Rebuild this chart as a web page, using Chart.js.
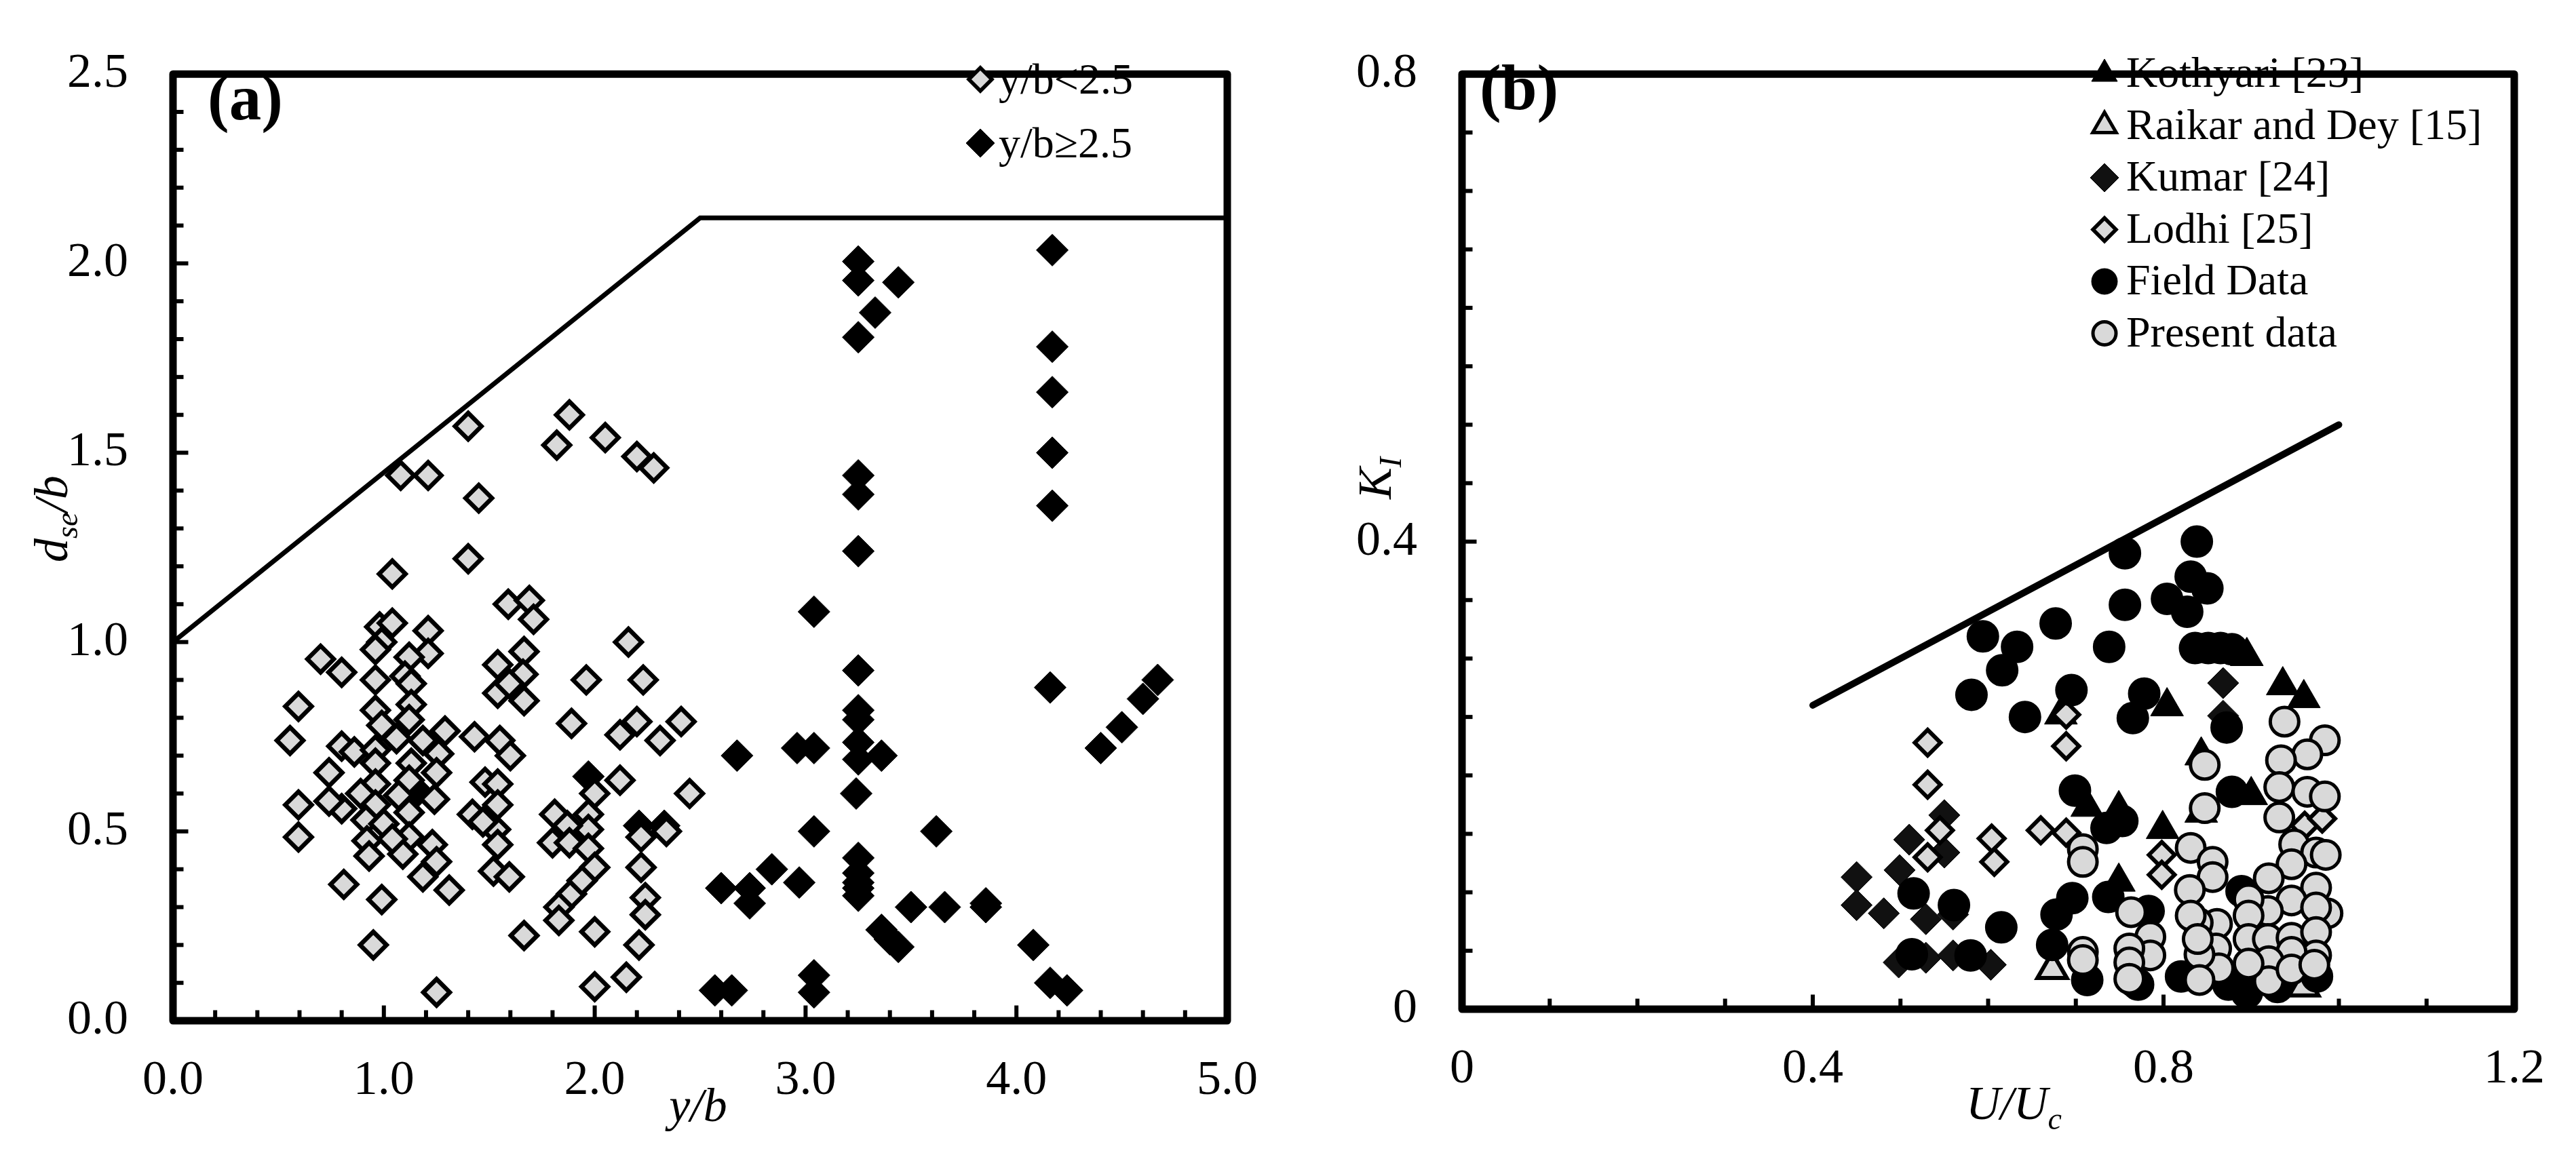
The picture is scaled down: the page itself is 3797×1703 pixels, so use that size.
<!DOCTYPE html>
<html>
<head>
<meta charset="utf-8">
<script src="https://cdn.jsdelivr.net/npm/chart.js@4.4.1/dist/chart.umd.min.js"></script>
<style>
html,body{margin:0;padding:0;background:#fff;width:3797px;height:1703px;overflow:hidden}
canvas{position:absolute;top:0}
#ca{left:0}
#cb{left:1900px}
</style>
</head>
<body>
<canvas id="ca" width="1900" height="1703"></canvas>
<canvas id="cb" width="1897" height="1703"></canvas>
<script>
// ---------------- Panel (a) data ----------------
const lowX = [1.08,1.21,1.40,1.45,1.88,1.82,2.05,2.20,2.28,1.40,
  1.04,1.59,1.69,1.71,0.98,1.04,1.21,0.99,0.96,1.21,
  1.12,0.80,0.70,1.665,1.54,1.66,2.16,1.96,2.23,0.96,
  1.10,1.13,1.54,1.665,1.595,1.13,0.96,1.89,2.20,2.12,
  2.31,2.41,0.99,1.12,1.06,1.185,1.29,1.43,1.55,1.60,
  1.26,0.80,0.86,0.96,0.74,0.96,1.13,1.25,2.12,2.45,
  2.00,1.48,1.54,0.96,1.12,0.80,0.74,0.89,0.96,1.07,
  1.12,1.24,1.42,1.54,1.53,1.47,1.81,1.97,1.97,1.87,
  2.22,2.34,0.915,1.00,1.12,0.92,1.23,1.09,0.93,1.04,
  1.54,1.80,1.88,1.97,2.00,2.22,1.52,1.595,1.25,1.185,
  1.31,0.81,0.99,1.89,1.94,1.83,2.24,2.24,1.83,1.665,
  2.00,2.21,0.95,2.15,2.00,1.25,0.595,0.555,0.595,0.595];
const lowY = [1.44,1.44,1.57,1.38,1.60,1.52,1.54,1.49,1.46,1.22,
  1.18,1.10,1.11,1.06,1.04,1.05,1.03,1.00,0.98,0.97,
  0.96,0.92,0.955,0.975,0.94,0.915,1.00,0.90,0.90,0.90,
  0.91,0.89,0.865,0.845,0.89,0.835,0.82,0.785,0.79,0.755,
  0.74,0.79,0.78,0.795,0.745,0.74,0.765,0.75,0.74,0.70,
  0.705,0.725,0.71,0.715,0.655,0.68,0.68,0.655,0.635,0.60,
  0.60,0.63,0.625,0.625,0.635,0.56,0.58,0.60,0.57,0.595,
  0.55,0.585,0.545,0.57,0.505,0.525,0.545,0.545,0.505,0.515,
  0.485,0.50,0.53,0.52,0.485,0.475,0.465,0.44,0.435,0.48,
  0.465,0.47,0.47,0.455,0.405,0.405,0.395,0.38,0.42,0.38,
  0.345,0.36,0.32,0.335,0.37,0.30,0.325,0.28,0.265,0.225,
  0.235,0.20,0.20,0.115,0.09,0.075,0.83,0.74,0.57,0.485];
const highX = [3.25,3.25,3.44,3.33,3.25,4.17,4.17,4.17,4.17,4.17,
  3.25,3.25,3.25,3.04,3.25,4.16,4.67,4.60,4.50,4.40,
  3.25,3.25,3.25,3.25,3.36,2.675,2.96,3.04,3.24,3.04,
  3.62,3.25,3.25,3.25,3.25,3.25,2.84,2.97,2.60,2.735,
  2.735,3.50,3.66,3.855,3.855,3.36,3.40,3.44,4.08,4.16,
  4.24,3.04,3.04,2.65,2.57,1.97,1.16,2.21,2.33];
const highY = [2.005,1.955,1.95,1.87,1.805,2.035,1.78,1.66,1.50,1.36,
  1.44,1.39,1.24,1.08,0.925,0.88,0.90,0.85,0.775,0.72,
  0.82,0.795,0.735,0.69,0.70,0.70,0.72,0.72,0.60,0.50,
  0.50,0.43,0.39,0.365,0.35,0.33,0.40,0.365,0.35,0.35,
  0.31,0.30,0.30,0.31,0.30,0.24,0.215,0.195,0.20,0.10,
  0.08,0.12,0.075,0.08,0.08,0.645,0.605,0.515,0.515];
const envAX = [0, 2.5, 5.0];
const envAY = [1.0, 2.12, 2.12];
const ticksAX = [0, 1, 2, 3, 4, 5];
const ticksAY = [0, 0.5, 1.0, 1.5, 2.0, 2.5];

// ---------------- Panel (b) data ----------------
const kothX = [0.895,0.936,0.960,0.804,0.683,0.843,0.713,0.749,0.799,0.900,0.749,0.843];
const kothY = [0.302,0.277,0.266,0.259,0.252,0.217,0.173,0.171,0.154,0.183,0.109,0.168];
const raikX = [0.673,0.960];
const raikY = [0.034,0.019];
const kumX = [0.550,0.510,0.550,0.499,0.450,0.450,0.481,0.529,0.560,0.498,0.529,0.560,0.603,0.868,0.868];
const kumY = [0.166,0.145,0.134,0.119,0.113,0.089,0.082,0.077,0.081,0.040,0.044,0.046,0.038,0.279,0.251];
const lodX = [0.531,0.531,0.545,0.531,0.604,0.607,0.660,0.689,0.689,0.689,0.798,0.798,0.961,0.981];
const lodY = [0.228,0.192,0.153,0.130,0.146,0.126,0.153,0.151,0.252,0.225,0.132,0.115,0.157,0.163];
const fieldX = [0.838,0.756,0.831,0.850,0.756,0.804,0.827,0.677,0.633,0.594,
  0.738,0.616,0.581,0.836,0.851,0.865,0.878,0.695,0.642,0.778,
  0.765,0.872,0.699,0.735,0.753,0.878,0.515,0.561,0.615,0.513,
  0.580,0.696,0.678,0.673,0.713,0.737,0.766,0.783,0.771,0.820,
  0.874,0.895,0.930,0.889,0.975];
const fieldY = [0.400,0.390,0.370,0.360,0.346,0.351,0.340,0.330,0.310,0.319,
  0.310,0.290,0.269,0.309,0.309,0.309,0.308,0.273,0.250,0.270,
  0.249,0.241,0.187,0.155,0.161,0.186,0.099,0.089,0.070,0.047,
  0.046,0.095,0.081,0.055,0.025,0.096,0.024,0.084,0.021,0.028,
  0.021,0.014,0.019,0.101,0.028];
const presX = [0.938,0.984,0.964,0.934,0.932,0.964,0.984,0.847,0.847,0.932,
  0.949,0.974,0.985,0.946,0.831,0.856,0.856,0.830,0.920,0.974,
  0.946,0.987,0.974,0.919,0.897,0.861,0.839,0.831,0.897,0.897,
  0.919,0.946,0.974,0.974,0.946,0.920,0.920,0.897,0.860,0.863,
  0.841,0.839,0.841,0.785,0.785,0.763,0.761,0.761,0.761,0.946,
  0.972,0.708,0.708,0.708,0.708];
const presY = [0.246,0.230,0.218,0.213,0.190,0.186,0.182,0.209,0.172,0.164,
  0.141,0.134,0.132,0.124,0.138,0.126,0.113,0.102,0.112,0.104,
  0.093,0.082,0.087,0.084,0.094,0.073,0.074,0.080,0.080,0.060,
  0.060,0.061,0.066,0.046,0.049,0.041,0.024,0.039,0.052,0.035,
  0.047,0.060,0.025,0.062,0.046,0.083,0.052,0.040,0.026,0.034,
  0.038,0.137,0.126,0.049,0.042];
const envBX = [0.4, 1.0];
const envBY = [0.26, 0.50];
const ticksBX = [0, 0.4, 0.8, 1.2];
const ticksBY = [0, 0.4, 0.8];

// ---------------- helpers ----------------
const SERIF = "'Liberation Serif', 'Times New Roman', serif";
const GRAY = '#d9d9d9';
const zip = (xs, ys) => xs.map((x, i) => ({x: x, y: ys[i]}));

function drawRuns(ctx, runs, x, y, size, align, rotate) {
  ctx.save();
  ctx.translate(x, y);
  if (rotate) ctx.rotate(rotate);
  const fonts = runs.map(r => (r.i ? 'italic ' : '') + (r.b ? 'bold ' : '') +
    Math.round(r.sub ? size * 0.65 : size) + 'px ' + SERIF);
  const widths = [];
  let total = 0;
  runs.forEach((r, k) => { ctx.font = fonts[k]; const w = ctx.measureText(r.t).width; widths.push(w); total += w; });
  let cx = align === 'center' ? -total / 2 : 0;
  ctx.fillStyle = '#000';
  ctx.textAlign = 'left';
  ctx.textBaseline = 'alphabetic';
  runs.forEach((r, k) => {
    ctx.font = fonts[k];
    ctx.fillText(r.t, cx, r.sub ? size * 0.22 : 0);
    cx += widths[k];
  });
  ctx.restore();
}

function makeOverlay(cfg) {
  return {
    id: 'overlay_' + cfg.name,
    afterDatasetsDraw(chart) {
      const ctx = chart.ctx, a = chart.chartArea, xs = chart.scales.x, ys = chart.scales.y;
      ctx.save();
      ctx.strokeStyle = '#000';
      const inner = cfg.frameWidth / 2;
      ctx.lineWidth = cfg.tickWidth;
      ctx.lineCap = 'butt';
      const nx = Math.round((xs.max - xs.min) / cfg.xMinor);
      for (let k = 1; k < nx; k++) {
        const p = xs.getPixelForValue(xs.min + k * cfg.xMinor);
        const len = (k % cfg.xMajorEvery === 0) ? cfg.majorLen : cfg.minorLen;
        ctx.beginPath(); ctx.moveTo(p, a.bottom); ctx.lineTo(p, a.bottom - inner - len); ctx.stroke();
      }
      const ny = Math.round((ys.max - ys.min) / cfg.yMinor);
      for (let k = 1; k < ny; k++) {
        const p = ys.getPixelForValue(ys.min + k * cfg.yMinor);
        const len = (k % cfg.yMajorEvery === 0) ? cfg.majorLen : cfg.minorLen;
        ctx.beginPath(); ctx.moveTo(a.left, p); ctx.lineTo(a.left + inner + len, p); ctx.stroke();
      }
      ctx.lineWidth = cfg.frameWidth;
      ctx.lineJoin = 'round';
      ctx.strokeRect(a.left, a.top, a.right - a.left, a.bottom - a.top);
      ctx.restore();
    },
    afterDraw(chart) {
      const ctx = chart.ctx;
      const L = cfg.legend;
      let row = 0;
      chart.data.datasets.forEach(ds => {
        if (!ds.legendRadius) return;
        const base = L.baseline + row * L.spacing;
        ctx.save();
        ctx.fillStyle = ds.backgroundColor;
        ctx.strokeStyle = ds.borderColor;
        ctx.lineWidth = ds.legendBorder;
        Chart.helpers.drawPoint(ctx, {pointStyle: ds.pointStyle, rotation: 0,
          radius: ds.legendRadius, borderWidth: ds.legendBorder}, L.markerX - cfg.offsetX, base + L.markerDy);
        ctx.restore();
        ctx.save();
        ctx.font = L.font + 'px ' + SERIF;
        ctx.fillStyle = '#000';
        ctx.textAlign = 'left';
        ctx.textBaseline = 'alphabetic';
        ctx.fillText(ds.label, L.textX - cfg.offsetX, base);
        ctx.restore();
        row++;
      });
      cfg.texts.forEach(t => drawRuns(ctx, t.runs, t.x - cfg.offsetX, t.y, t.size, t.align, t.rotate));
    }
  };
}

function scaleOpts(min, max, ticks, fmt, size, fixed, horizontal) {
  return {
    type: 'linear', min: min, max: max,
    afterBuildTicks: s => { s.ticks = ticks.map(v => ({value: v})); },
    ticks: {
      padding: horizontal ? 46 : 66,
      color: '#000', autoSkip: false, maxRotation: 0,
      font: {family: SERIF, size: size},
      callback: fmt
    },
    grid: {display: false, drawTicks: false},
    border: {display: false},
    afterFit: s => { if (horizontal) s.height = fixed; else s.width = fixed; }
  };
}

// ---------------- Chart (a) ----------------
const fmtA = v => Number(v).toFixed(1);
new Chart(document.getElementById('ca'), {
  type: 'scatter',
  data: {
    datasets: [
      {label: 'y/b<2.5', data: zip(lowX, lowY), pointStyle: 'rectRot', pointRadius: 19.5,
       backgroundColor: GRAY, borderColor: '#000', borderWidth: 6.5, order: 1,
       legendRadius: 17, legendBorder: 5.5},
      {label: 'y/b\u22652.5', data: zip(highX, highY), pointStyle: 'rectRot', pointRadius: 23.5,
       backgroundColor: '#000', borderColor: '#000', borderWidth: 1, order: 2,
       legendRadius: 21, legendBorder: 1},
      {label: 'envelope', data: zip(envAX, envAY), showLine: true, pointRadius: 0,
       borderColor: '#000', borderWidth: 7, fill: false, order: 0, borderJoinStyle: 'miter'}
    ]
  },
  options: {
    responsive: false, devicePixelRatio: 1, animation: false, events: [],
    layout: {padding: {top: 67, right: 90, left: 0, bottom: 0}},
    plugins: {legend: {display: false}, tooltip: {enabled: false}},
    scales: {
      x: scaleOpts(0, 5, ticksAX, fmtA, 72, 198, true),
      y: scaleOpts(0, 2.5, ticksAY, fmtA, 72, 255, false)
    }
  },
  plugins: [makeOverlay({
    name: 'a', offsetX: 0, frameWidth: 11, tickWidth: 6, minorLen: 10, majorLen: 17,
    xMinor: 0.2, xMajorEvery: 5, yMinor: 0.1, yMajorEvery: 5,
    legend: {markerX: 1445, textX: 1472, baseline: 138, spacing: 94, markerDy: -21, font: 64},
    texts: [
      {runs: [{t: '(a)', b: true}], x: 306, y: 176, size: 95, align: 'left'},
      {runs: [{t: 'y/b', i: true}], x: 1029, y: 1653, size: 70, align: 'center'},
      {runs: [{t: 'd', i: true}, {t: 'se', i: true, sub: true}, {t: '/b', i: true}],
       x: 99, y: 765, size: 70, align: 'center', rotate: -Math.PI / 2}
    ]
  })]
});

// ---------------- Chart (b) ----------------
const fmtB = v => (v === 0 ? '0' : Number(v).toFixed(1));
new Chart(document.getElementById('cb'), {
  type: 'scatter',
  data: {
    datasets: [
      {label: 'Kothyari [23]', data: zip(kothX, kothY), pointStyle: 'triangle', pointRadius: 28,
       backgroundColor: '#000', borderColor: '#000', borderWidth: 1, order: 6,
       legendRadius: 22, legendBorder: 1},
      {label: 'Raikar and Dey [15]', data: zip(raikX, raikY), pointStyle: 'triangle', pointRadius: 25,
       backgroundColor: GRAY, borderColor: '#000', borderWidth: 6, order: 5,
       legendRadius: 20, legendBorder: 5},
      {label: 'Kumar [24]', data: zip(kumX, kumY), pointStyle: 'rectRot', pointRadius: 23,
       backgroundColor: '#111', borderColor: '#000', borderWidth: 1, order: 4,
       legendRadius: 21, legendBorder: 1},
      {label: 'Lodhi [25]', data: zip(lodX, lodY), pointStyle: 'rectRot', pointRadius: 19,
       backgroundColor: GRAY, borderColor: '#000', borderWidth: 6, order: 3,
       legendRadius: 17, legendBorder: 5.5},
      {label: 'Field Data', data: zip(fieldX, fieldY), pointStyle: 'circle', pointRadius: 23,
       backgroundColor: '#000', borderColor: '#000', borderWidth: 2, order: 2,
       legendRadius: 19, legendBorder: 1},
      {label: 'Present data', data: zip(presX, presY), pointStyle: 'circle', pointRadius: 21,
       backgroundColor: GRAY, borderColor: '#000', borderWidth: 5, order: 1,
       legendRadius: 17, legendBorder: 5},
      {label: 'envelope', data: zip(envBX, envBY), showLine: true, pointRadius: 0,
       borderColor: '#000', borderWidth: 10, borderCapStyle: 'round', fill: false, order: 0}
    ]
  },
  options: {
    responsive: false, devicePixelRatio: 1, animation: false, events: [],
    layout: {padding: {top: 67, right: 87, left: 0, bottom: 0}},
    plugins: {legend: {display: false}, tooltip: {enabled: false}},
    scales: {
      x: scaleOpts(0, 1.2, ticksBX, fmtB, 72, 215, true),
      y: scaleOpts(0, 0.8, ticksBY, fmtB, 72, 255, false)
    }
  },
  plugins: [makeOverlay({
    name: 'b', offsetX: 1900, frameWidth: 11, tickWidth: 6, minorLen: 10, majorLen: 16,
    xMinor: 0.1, xMajorEvery: 4, yMinor: 0.05, yMajorEvery: 8,
    legend: {markerX: 3102, textX: 3134, baseline: 128, spacing: 76.5, markerDy: -19, font: 64},
    texts: [
      {runs: [{t: '(b)', b: true}], x: 2181, y: 161, size: 95, align: 'left'},
      {runs: [{t: 'U/U', i: true}, {t: 'c', i: true, sub: true}], x: 2898, y: 1650, size: 70, align: 'left'},
      {runs: [{t: 'K', i: true}, {t: 'I', i: true, sub: true}],
       x: 2050, y: 705, size: 70, align: 'center', rotate: -Math.PI / 2}
    ]
  })]
});
</script>
</body>
</html>
